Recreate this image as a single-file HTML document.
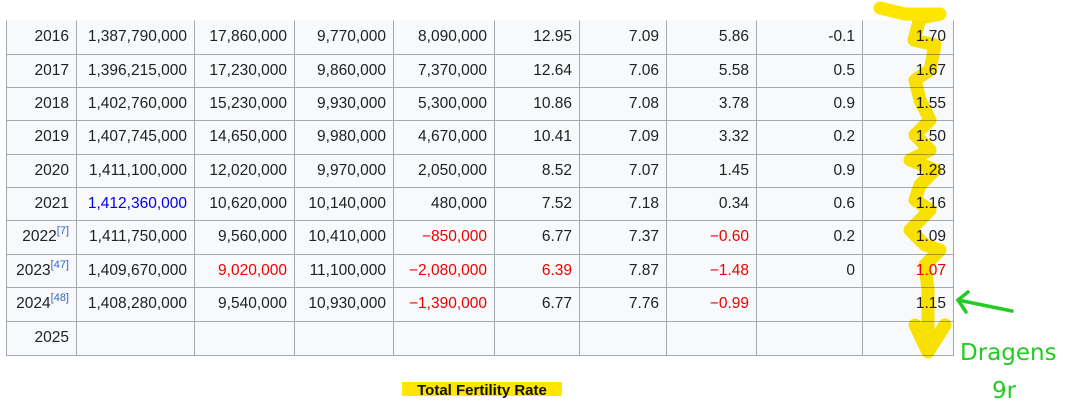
<!DOCTYPE html>
<html><head><meta charset="utf-8"><style>
body{margin:0;width:1071px;height:409px;background:#fff;position:relative;overflow:hidden;font-family:"Liberation Sans",Arial,sans-serif;}
.c{position:absolute;background:#f8f9fa;border:1px solid #a2a9b1;box-sizing:border-box;font-size:15.5px;color:#202122;text-align:right;padding-right:7px;line-height:31px;}
.r{color:#e00;} .b{color:#0000ee;}
sup{color:#3366cc;font-size:11px;line-height:0;vertical-align:7px;}
</style></head><body>
<div id="t"></div>
<script>
var xs=[6,76,194,294,393,494,579,666,756,862,953];
var ys=[20,54,87,120,154,187,220,254,287,321,355];
var rows=[
["2016","1,387,790,000","17,860,000","9,770,000","8,090,000","12.95","7.09","5.86","-0.1","1.70"],
["2017","1,396,215,000","17,230,000","9,860,000","7,370,000","12.64","7.06","5.58","0.5","1.67"],
["2018","1,402,760,000","15,230,000","9,930,000","5,300,000","10.86","7.08","3.78","0.9","1.55"],
["2019","1,407,745,000","14,650,000","9,980,000","4,670,000","10.41","7.09","3.32","0.2","1.50"],
["2020","1,411,100,000","12,020,000","9,970,000","2,050,000","8.52","7.07","1.45","0.9","1.28"],
["2021","<span class=b>1,412,360,000</span>","10,620,000","10,140,000","480,000","7.52","7.18","0.34","0.6","1.16"],
["2022<sup>[7]</sup>","1,411,750,000","9,560,000","10,410,000","<span class=r>−850,000</span>","6.77","7.37","<span class=r>−0.60</span>","0.2","1.09"],
["2023<sup>[47]</sup>","1,409,670,000","<span class=r>9,020,000</span>","11,100,000","<span class=r>−2,080,000</span>","<span class=r>6.39</span>","7.87","<span class=r>−1.48</span>","0","<span class=r>1.07</span>"],
["2024<sup>[48]</sup>","1,408,280,000","9,540,000","10,930,000","<span class=r>−1,390,000</span>","6.77","7.76","<span class=r>−0.99</span>","","1.15"],
["2025","","","","","","","","",""]];
var h="";
for(var i=0;i<10;i++)for(var j=0;j<10;j++){
var st="left:"+xs[j]+"px;top:"+ys[i]+"px;width:"+(xs[j+1]-xs[j]+1)+"px;height:"+(ys[i+1]-ys[i]+1)+"px;";
if(i==0)st+="border-top-color:#f8f9fa;";
h+='<div class="c" style="'+st+'">'+rows[i][j]+'</div>';}
document.getElementById("t").innerHTML=h;
</script>
<svg width="1071" height="409" style="position:absolute;left:0;top:0;mix-blend-mode:multiply">
<g fill="none" stroke="#ffe600" stroke-width="13" stroke-linecap="round" stroke-linejoin="round">
<polyline points="880,8 905,14 940,14 920,18 914,40 935,45 930,70 915,80 920,100 930,120 915,135 930,150 910,160 935,170 920,185 915,200 930,210 910,230 925,245 940,250 925,265 928,290 928,350"/>
<polyline points="915,325 928,352 945,325"/>
</g>
<g fill="none" stroke="#22cc22" stroke-width="3.5" stroke-linecap="round">
<line x1="958" y1="300" x2="1012" y2="311"/><polyline points="968,292 958,300 966,312"/>
</g>
<rect x="402" y="382" width="160" height="14" fill="#ffe600"/>
</svg>
<svg width="1071" height="409" style="position:absolute;left:0;top:0">
<text x="482" y="395" text-anchor="middle" font-family="Liberation Sans,sans-serif" font-weight="bold" font-size="15" fill="#111">Total Fertility Rate</text>
<text x="960" y="360" font-family="DejaVu Sans,sans-serif" font-size="23" fill="#22cc22">Dragens</text>
<text x="992" y="398" font-family="DejaVu Sans,sans-serif" font-size="23" fill="#22cc22">9r</text>
</svg>
</body></html>
